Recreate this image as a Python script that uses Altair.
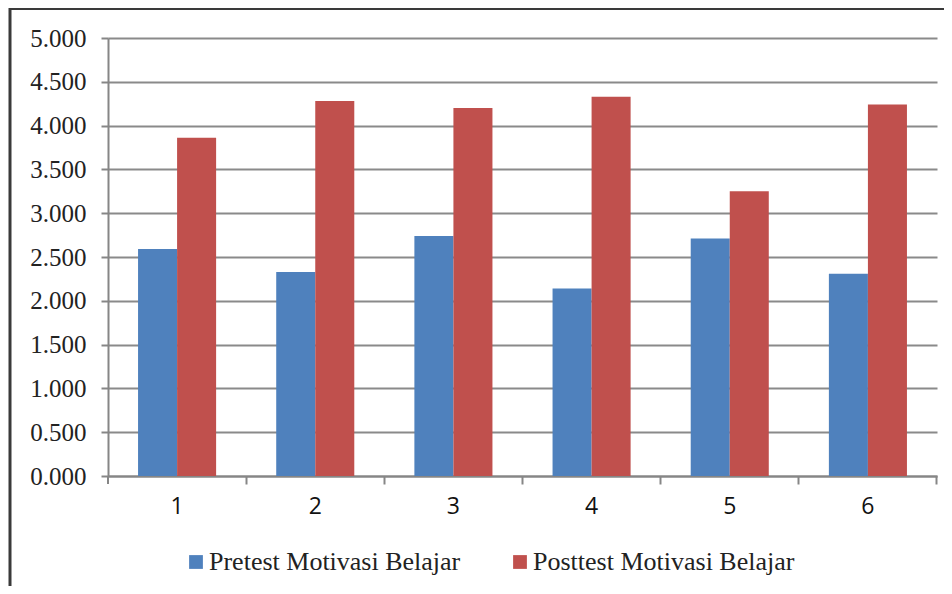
import altair as alt
import pandas as pd

categories = ["1", "2", "3", "4", "5", "6"]
pretest = [2.59, 2.33, 2.74, 2.14, 2.71, 2.31]
posttest = [3.86, 4.28, 4.20, 4.33, 3.25, 4.24]
series_names = ["Pretest Motivasi Belajar", "Posttest Motivasi Belajar"]
series_colors = ["#4F81BD", "#C0504D"]
y_ticks = [0, 0.5, 1, 1.5, 2, 2.5, 3, 3.5, 4, 4.5, 5]

rows = []
for c, a, b in zip(categories, pretest, posttest):
    rows.append({"cat": c, "series": series_names[0], "value": a})
    rows.append({"cat": c, "series": series_names[1], "value": b})
df = pd.DataFrame(rows)

W, H = 829, 438
P_IN = 0.435
STEP = W / len(categories)
BW = STEP * (1 - P_IN)
TICK_BAND = (BW + P_IN * STEP / 2) / BW   # ticks midway between categories

bars = alt.Chart(df).mark_bar().encode(
    x=alt.X("cat:N", sort=categories, title=None,
            scale=alt.Scale(paddingInner=P_IN, paddingOuter=P_IN / 2),
            axis=alt.Axis(labelAngle=0, labelFont="Open Sans", labelFontSize=23,
                          labelColor="#111111", labelPadding=11, tickSize=8,
                          tickColor="#868686", tickWidth=2, domainColor="#868686",
                          domainWidth=2, bandPosition=TICK_BAND, grid=False)),
    xOffset=alt.XOffset("series:N", sort=series_names,
                        scale=alt.Scale(paddingInner=0, paddingOuter=0)),
    y=alt.Y("value:Q", title=None,
            scale=alt.Scale(domain=[0, 5], nice=False),
            axis=alt.Axis(values=y_ticks, format=".3f", labelFont="Liberation Serif",
                          labelFontSize=25, labelColor="#222222", labelPadding=15,
                          tickSize=7, tickColor="#868686", tickWidth=2,
                          domainColor="#868686", domainWidth=2,
                          grid=True, gridColor="#8a8a8a", gridWidth=2)),
    color=alt.Color("series:N", sort=series_names,
                    scale=alt.Scale(domain=series_names, range=series_colors),
                    legend=alt.Legend(title=None, orient="none", direction="horizontal",
                                      legendX=75, legendY=511, symbolType="square",
                                      symbolSize=190, symbolStrokeWidth=0,
                                      labelFont="Liberation Serif", labelFontSize=26,
                                      labelColor="#222222", labelOffset=0,
                                      labelLimit=0, columnPadding=46, padding=0)),
)

first_tick = alt.Chart(pd.DataFrame({"a": [0]})).mark_rule(
    color="#868686", strokeWidth=2).encode(
    x=alt.value(0), y=alt.value(H), y2=alt.value(H + 8))
border_left = alt.Chart(pd.DataFrame({"a": [0]})).mark_rule(
    color="#3a3a3a", strokeWidth=3).encode(
    x=alt.value(-98), y=alt.value(-31), y2=alt.value(H + 200))
border_top = alt.Chart(pd.DataFrame({"a": [0]})).mark_rule(
    color="#3a3a3a", strokeWidth=3).encode(
    x=alt.value(-99), x2=alt.value(W + 100), y=alt.value(-29.5))

chart = alt.layer(bars, first_tick, border_left, border_top).properties(
    width=W, height=H,
    autosize=alt.AutoSizeParams(type="none"),
    padding={"left": 100, "top": 30, "right": 7, "bottom": 110},
    background="white",
).configure_view(stroke=None)

chart.save("out.html", embed_options={"renderer": "svg", "actions": False})
